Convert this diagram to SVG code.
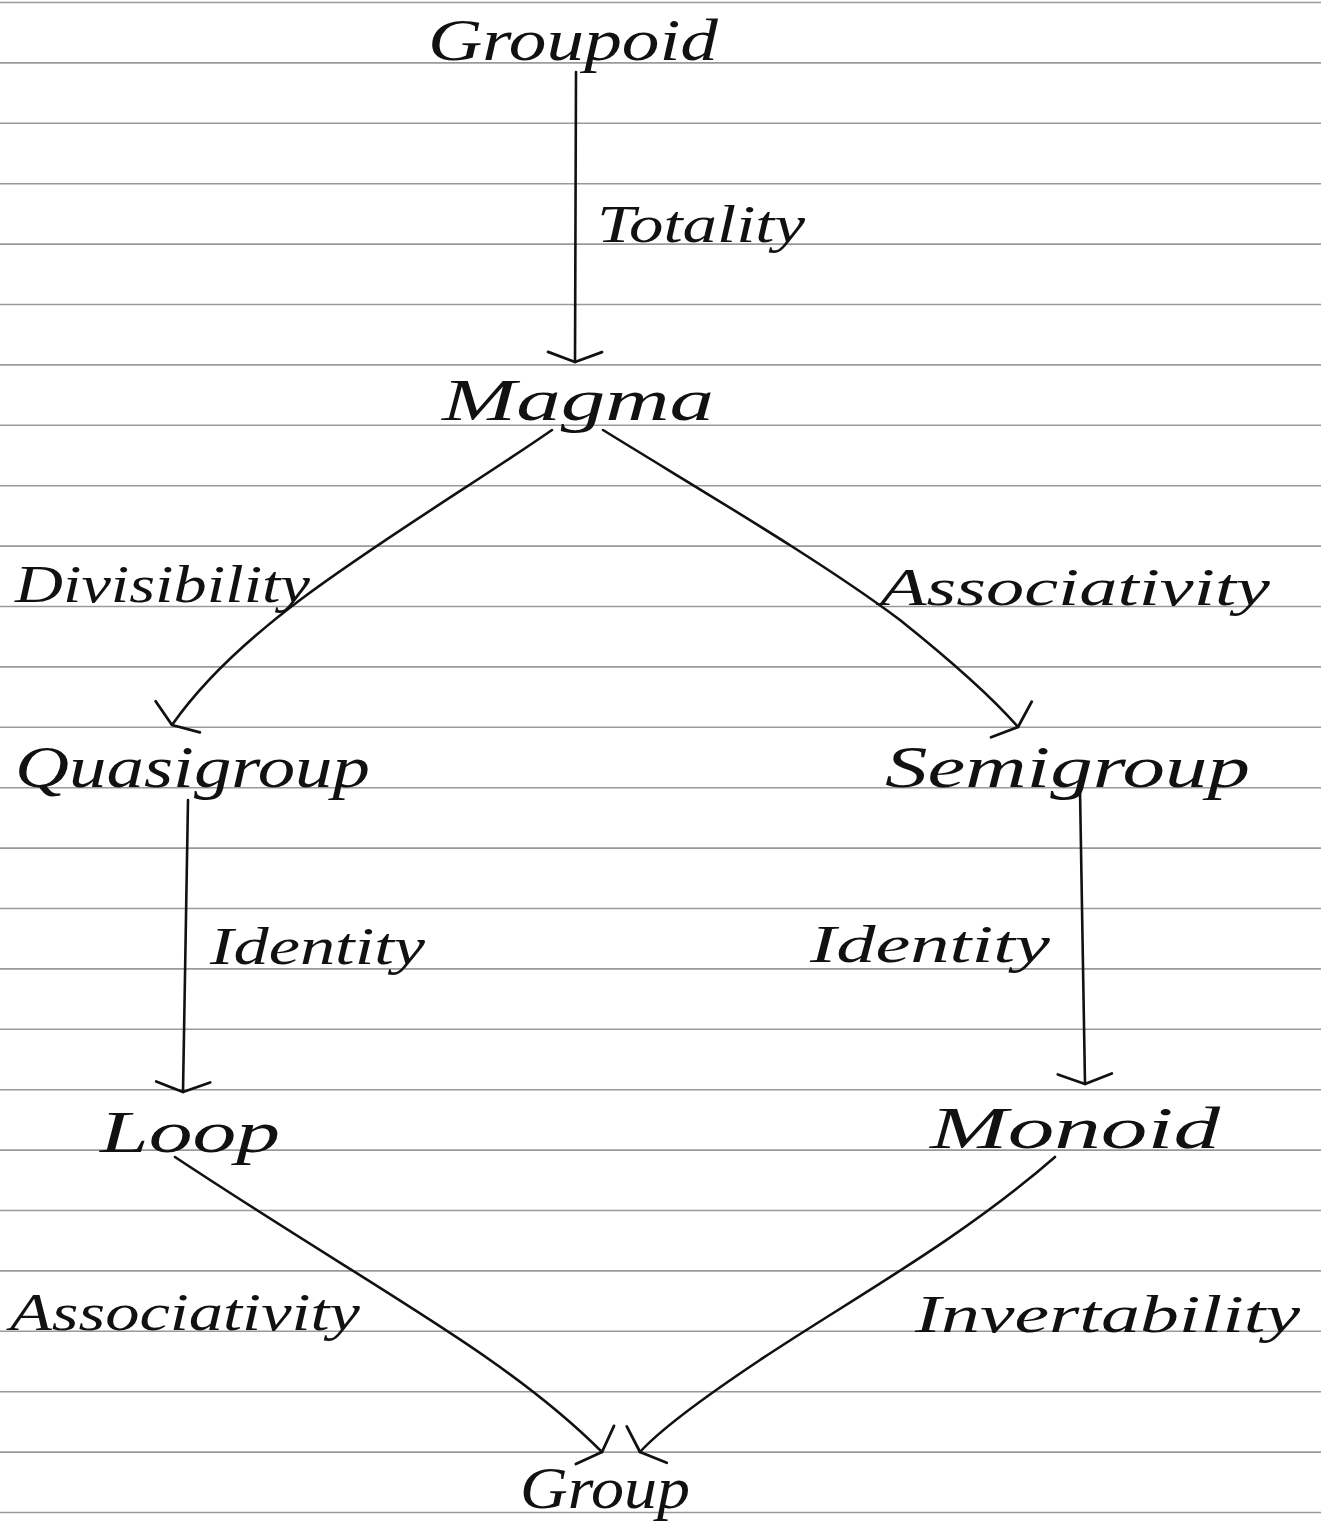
<svg xmlns="http://www.w3.org/2000/svg" width="1321" height="1527" viewBox="0 0 1321 1527">
<defs>
<style>
.rule{stroke:#9a9a9a;stroke-width:1.6}
.node{font-family:"Liberation Serif","DejaVu Serif",serif;font-style:italic;font-size:60px;fill:#111}
.lab{font-family:"Liberation Serif","DejaVu Serif",serif;font-style:italic;font-size:52px;fill:#111}
.edge{fill:none;stroke:#111;stroke-width:2.6;stroke-linecap:round;marker-end:url(#arr)}
</style>
<marker id="arr" viewBox="0 0 20 60" refX="18" refY="30" markerWidth="20" markerHeight="60" markerUnits="userSpaceOnUse" orient="auto">
<path d="M8,3 L18,30 L8,57" fill="none" stroke="#111" stroke-width="2.8" stroke-linecap="round" stroke-linejoin="round"/>
</marker>
</defs>
<rect width="1321" height="1527" fill="#fff"/>
<g id="paper">
<line class="rule" x1="0" x2="1321" y1="2.5" y2="2.5"/>
<line class="rule" x1="0" x2="1321" y1="62.9" y2="62.9"/>
<line class="rule" x1="0" x2="1321" y1="123.3" y2="123.3"/>
<line class="rule" x1="0" x2="1321" y1="183.7" y2="183.7"/>
<line class="rule" x1="0" x2="1321" y1="244.1" y2="244.1"/>
<line class="rule" x1="0" x2="1321" y1="304.5" y2="304.5"/>
<line class="rule" x1="0" x2="1321" y1="364.9" y2="364.9"/>
<line class="rule" x1="0" x2="1321" y1="425.3" y2="425.3"/>
<line class="rule" x1="0" x2="1321" y1="485.7" y2="485.7"/>
<line class="rule" x1="0" x2="1321" y1="546.1" y2="546.1"/>
<line class="rule" x1="0" x2="1321" y1="606.5" y2="606.5"/>
<line class="rule" x1="0" x2="1321" y1="666.9" y2="666.9"/>
<line class="rule" x1="0" x2="1321" y1="727.3" y2="727.3"/>
<line class="rule" x1="0" x2="1321" y1="787.7" y2="787.7"/>
<line class="rule" x1="0" x2="1321" y1="848.1" y2="848.1"/>
<line class="rule" x1="0" x2="1321" y1="908.5" y2="908.5"/>
<line class="rule" x1="0" x2="1321" y1="968.9" y2="968.9"/>
<line class="rule" x1="0" x2="1321" y1="1029.3" y2="1029.3"/>
<line class="rule" x1="0" x2="1321" y1="1089.7" y2="1089.7"/>
<line class="rule" x1="0" x2="1321" y1="1150.1" y2="1150.1"/>
<line class="rule" x1="0" x2="1321" y1="1210.5" y2="1210.5"/>
<line class="rule" x1="0" x2="1321" y1="1270.9" y2="1270.9"/>
<line class="rule" x1="0" x2="1321" y1="1331.3" y2="1331.3"/>
<line class="rule" x1="0" x2="1321" y1="1391.7" y2="1391.7"/>
<line class="rule" x1="0" x2="1321" y1="1452.1" y2="1452.1"/>
<line class="rule" x1="0" x2="1321" y1="1512.5" y2="1512.5"/>
</g>
<g id="connectors">
<path class="edge" d="M576,72 L575,362"/>
<path class="edge" d="M552,430 C480,480 380,540 300,600 C240,645 200,685 172,725"/>
<path class="edge" d="M603,430 C700,490 820,560 900,620 C950,660 990,695 1018,727"/>
<path class="edge" d="M188,800 L183,1092"/>
<path class="edge" d="M1080,790 L1085,1084"/>
<path class="edge" d="M175,1157 C300,1240 420,1310 490,1360 C540,1395 580,1430 602,1452"/>
<path class="edge" d="M1055,1157 C960,1240 850,1300 760,1360 C700,1400 660,1430 640,1452"/>
</g>
<g id="groupoid"><text class="node" x="428" y="60" textLength="290" lengthAdjust="spacingAndGlyphs">Groupoid</text></g>
<g id="magma"><text class="node" x="442" y="420" textLength="272" lengthAdjust="spacingAndGlyphs">Magma</text></g>
<g id="quasigroup"><text class="node" x="15" y="787" textLength="355" lengthAdjust="spacingAndGlyphs">Quasigroup</text></g>
<g id="semigroup"><text class="node" x="885" y="787" textLength="365" lengthAdjust="spacingAndGlyphs">Semigroup</text></g>
<g id="loop"><text class="node" x="100" y="1152" textLength="180" lengthAdjust="spacingAndGlyphs">Loop</text></g>
<g id="monoid"><text class="node" x="930" y="1148" textLength="290" lengthAdjust="spacingAndGlyphs">Monoid</text></g>
<g id="group"><text class="node" x="520" y="1508" textLength="170" lengthAdjust="spacingAndGlyphs">Group</text></g>
<g id="labels">
<text class="lab" x="597" y="242" textLength="208" lengthAdjust="spacingAndGlyphs">Totality</text>
<text class="lab" x="15" y="602" textLength="295" lengthAdjust="spacingAndGlyphs">Divisibility</text>
<text class="lab" x="880" y="605" textLength="390" lengthAdjust="spacingAndGlyphs">Associativity</text>
<text class="lab" x="210" y="964" textLength="215" lengthAdjust="spacingAndGlyphs">Identity</text>
<text class="lab" x="810" y="962" textLength="240" lengthAdjust="spacingAndGlyphs">Identity</text>
<text class="lab" x="10" y="1330" textLength="350" lengthAdjust="spacingAndGlyphs">Associativity</text>
<text class="lab" x="915" y="1332" textLength="385" lengthAdjust="spacingAndGlyphs">Invertability</text>
</g>
</svg>
